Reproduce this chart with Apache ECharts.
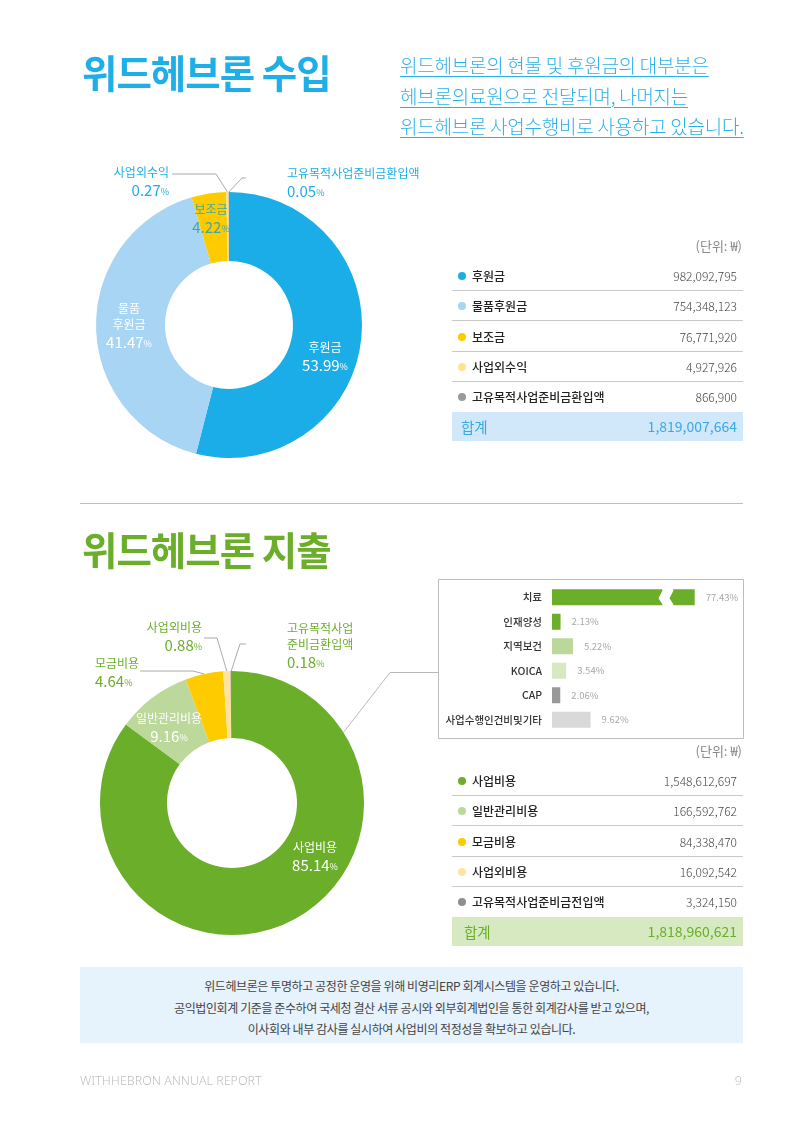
<!DOCTYPE html>
<html>
<head>
<meta charset="UTF-8">
<title>위드헤브론 수입 · 지출</title>
<script src="https://cdn.jsdelivr.net/npm/echarts@6.0.0/dist/echarts.min.js"></script>
<style>
    body { margin: 0; background: #fff; }
    #page { position: relative; width: 800px; height: 1132px; overflow: hidden;
        font-family: "Noto Sans CJK KR", "Noto Sans", sans-serif; }
    #chart { position: absolute; left: 0; top: 0; width: 800px; height: 1132px; }
    .abs { position: absolute; white-space: nowrap; }
    .title { left: 82px; font-size: 38.5px; font-weight: 700; letter-spacing: -1px; line-height: 42px; }
    .lead { left: 400px; top: 50px; font-size: 19px; line-height: 30.5px; color: #2cb0e8;
        font-weight: 300; letter-spacing: -0.25px; }
    .lead span { text-decoration: underline; text-underline-offset: 3px; text-decoration-thickness: 1px; }
    .unit { right: 58px; height: 20px; line-height: 20px; font-size: 13px; color: #888; }
    .row { left: 452px; width: 291px; height: 30px; box-sizing: border-box; line-height: 30px; font-size: 12px; }
    .row .dot { position: absolute; left: 6px; top: 11px; width: 8px; height: 8px; border-radius: 50%; }
    .row .lab { position: absolute; left: 20px; color: #222; font-weight: 500; }
    .row .val { position: absolute; right: 6px; color: #444; font-weight: 300; }
    .sum { left: 452px; width: 291px; height: 29px; line-height: 29px; font-size: 14.5px; }
    .sum .lab { position: absolute; left: 10px; }
    .sum .val { position: absolute; right: 6px; font-size: 14px; }
    .hr { left: 80px; top: 503px; width: 663px; height: 1px; background: #bdbdbd; }
    .note { left: 80px; top: 967px; width: 663px; height: 76px; background: #e6f2fc; box-sizing: border-box;
        padding-top: 8px; text-align: center; font-size: 12px; line-height: 21.5px; color: #444;
        letter-spacing: -0.4px; }
    .foot { top: 1072px; height: 18px; line-height: 18px; font-family: "Noto Sans", sans-serif;
        font-size: 12.5px; color: #bfbfbf; font-weight: 300; }
</style>
</head>
<body>
<div id="page">
    <div id="chart"></div>
    <div class="abs title" style="top:50px;color:#1eaee8;">위드헤브론 수입</div>
    <div class="abs lead">
        <span>위드헤브론의 현물 및 후원금의 대부분은</span><br>
        <span>헤브론의료원으로 전달되며, 나머지는</span><br>
        <span>위드헤브론 사업수행비로 사용하고 있습니다.</span>
    </div>
    <div id="incomeTable"></div>
    <div class="abs hr"></div>
    <div class="abs title" style="top:527px;color:#6aae2a;">위드헤브론 지출</div>
    <div id="expenseTable"></div>
    <div class="abs note">
        위드헤브론은 투명하고 공정한 운영을 위해 비영리ERP 회계시스템을 운영하고 있습니다.<br>
        공익법인회계 기준을 준수하여 국세청 결산 서류 공시와 외부회계법인을 통한 회계감사를 받고 있으며,<br>
        이사회와 내부 감사를 실시하여 사업비의 적정성을 확보하고 있습니다.
    </div>
    <div class="abs foot" style="left:80px;">WITHHEBRON ANNUAL REPORT</div>
    <div class="abs foot" style="right:58px;">9</div>
</div>
<script>
    // 수입
    var incomeNames = ['후원금', '물품후원금', '보조금', '사업외수익', '고유목적사업준비금환입액'];
    var incomeLabels = ['후원금', '물품\n후원금', '보조금', '사업외수익', '고유목적사업준비금환입액'];
    var incomeAmounts = [982092795, 754348123, 76771920, 4927926, 866900];
    var incomePct = [53.99, 41.47, 4.22, 0.27, 0.05];
    var incomeTotal = 1819007664;

    // 지출
    var expenseNames = ['사업비용', '일반관리비용', '모금비용', '사업외비용', '고유목적사업준비금전입액'];
    var expenseLabels = ['사업비용', '일반관리비용', '모금비용', '사업외비용', '고유목적사업\n준비금환입액'];
    var expenseAmounts = [1548612697, 166592762, 84338470, 16092542, 3324150];
    var expensePct = [85.14, 9.16, 4.64, 0.88, 0.18];
    var expenseTotal = 1818960621;

    // 사업비용 세부
    var projectNames = ['치료', '인재양성', '지역보건', 'KOICA', 'CAP', '사업수행인건비및기타'];
    var projectPct = [77.43, 2.13, 5.22, 3.54, 2.06, 9.62];

    var incomeColors = ['#1aade8', '#a9d5f5', '#fecb00', '#ffe38c', '#9a9a9a'];
    var expenseColors = ['#6aae2a', '#bdd89b', '#fecb00', '#ffe4a0', '#8e8e8e'];
    var projectColors = ['#6aae2a', '#6aae2a', '#bcd898', '#d7e9c3', '#999999', '#d9d9d9'];

    function fmt(n) { return n.toLocaleString('en-US'); }

    function buildTable(id, top, names, amounts, colors, total, sumBg, sumColor, sumLeft) {
        var html = '<div class="abs unit" style="top:' + (top - 25) + 'px">(단위: ₩)</div>';
        for (var i = 0; i < names.length; i++) {
            var t = top + i * 30.25;
            var border = i < names.length - 1 ? 'border-bottom:1px solid #c9c9c9;' : '';
            html += '<div class="abs row" style="top:' + t + 'px;' + border + '">' +
                '<span class="dot" style="background:' + colors[i] + '"></span>' +
                '<span class="lab">' + names[i] + '</span>' +
                '<span class="val">' + fmt(amounts[i]) + '</span></div>';
        }
        var st = top + names.length * 30.25;
        html += '<div class="abs sum" style="top:' + st + 'px;background:' + sumBg + ';color:' + sumColor + '">' +
            '<span class="lab" style="left:' + sumLeft + 'px">합계</span>' +
            '<span class="val">' + fmt(total) + '</span></div>';
        document.getElementById(id).innerHTML = html;
    }
    buildTable('incomeTable', 261, incomeNames, incomeAmounts, incomeColors, incomeTotal, '#d0e8f9', '#3aa8e6', 9);
    buildTable('expenseTable', 766, expenseNames, expenseAmounts, expenseColors, expenseTotal, '#d6e9c1', '#6aae2a', 12);

    function rich(color) {
        return {
            n: { fontSize: 12, lineHeight: 16, color: color },
            v: { fontSize: 15, lineHeight: 19, color: color },
            p: { fontSize: 9, lineHeight: 19, color: color, verticalAlign: 'bottom', padding: [0, 0, 3, 0] }
        };
    }

    function pieLabel(labels, pcts) {
        return function (p) {
            var lines = labels[p.dataIndex].split('\n').map(function (s) { return '{n|' + s + '}'; });
            return lines.join('\n') + '\n{v|' + pcts[p.dataIndex].toFixed(2) + '}{p|%}';
        };
    }

    function pieLayout(spots) {
        return function (p) {
            var s = spots[p.dataIndex];
            var out = { x: s.x, y: s.y, align: s.align, verticalAlign: 'middle' };
            if (s.line && p.labelLinePoints) {
                out.labelLinePoints = [p.labelLinePoints[0]].concat(s.line);
            }
            return out;
        };
    }

    function pieData(names, amounts, colors, outside, outColor) {
        return names.map(function (n, i) {
            var d = { name: n, value: amounts[i], itemStyle: { color: colors[i] } };
            if (outside[i]) {
                d.label = { position: 'outside', rich: rich(outColor) };
                d.labelLine = { show: true };
            }
            return d;
        });
    }

    var incomeData = pieData(incomeNames, incomeAmounts, incomeColors, [0, 0, 0, 1, 1], '#1eaee8');
    incomeData[2].label = { rich: rich('#45a79c') };

    var expenseData = pieData(expenseNames, expenseAmounts, expenseColors, [0, 0, 1, 1, 1], '#6aae2a');

    var myChart = echarts.init(document.getElementById('chart'));
    myChart.setOption({
        animation: false,
        textStyle: { fontFamily: 'Noto Sans CJK KR' },
        graphic: [
            {
                type: 'rect',
                shape: { x: 438.5, y: 579.5, width: 305, height: 159 },
                style: { fill: 'rgba(0,0,0,0)', stroke: '#bdbdbd', lineWidth: 1 }
            },
            {
                type: 'polyline',
                shape: { points: [[438, 672.5], [390, 672.5], [343, 733]] },
                style: { stroke: '#b8b8b8', lineWidth: 1, fill: null },
                z: 10
            }
        ],
        grid: { left: 552, top: 585, width: 153, height: 147 },
        xAxis: {
            type: 'value',
            min: 0,
            max: 80,
            axisLine: { show: false },
            axisTick: { show: false },
            axisLabel: { show: false },
            splitLine: { show: false },
            breaks: [{ start: 27, end: 71.6, gap: 2.75 }],
            breakArea: {
                show: true,
                itemStyle: { color: '#fff', borderColor: '#fff', borderWidth: 0, opacity: 1 },
                zigzagAmplitude: 2,
                zigzagMinSpan: 5,
                zigzagMaxSpan: 10,
                zigzagZ: 100,
                expandOnClick: false
            }
        },
        yAxis: {
            type: 'category',
            inverse: true,
            data: projectNames,
            axisLine: { show: false },
            axisTick: { show: false },
            axisLabel: { margin: 10, color: '#333', fontSize: 10.5, fontWeight: 500 }
        },
        series: [
            {
                type: 'bar',
                barWidth: 16,
                silent: true,
                data: projectPct.map(function (v, i) {
                    return { value: v, itemStyle: { color: projectColors[i] } };
                }),
                label: {
                    show: true,
                    position: 'right',
                    distance: 11,
                    color: '#a8a8a8',
                    fontSize: 9.5,
                    formatter: function (p) { return p.value.toFixed(2) + '%'; }
                }
            },
            {
                type: 'pie',
                center: [229, 325],
                radius: [64, 133],
                startAngle: 90,
                clockwise: true,
                silent: true,
                avoidLabelOverlap: false,
                label: {
                    show: true,
                    position: 'inside',
                    formatter: pieLabel(incomeLabels, incomePct),
                    rich: rich('#fff')
                },
                labelLine: { show: false, lineStyle: { color: '#aaa', width: 1 } },
                labelLayout: pieLayout([
                    { x: 325, y: 357, align: 'center' },
                    { x: 129, y: 326, align: 'center' },
                    { x: 211, y: 219, align: 'center' },
                    { x: 169, y: 182, align: 'right', line: [[216, 174], [172, 174]] },
                    { x: 287, y: 183, align: 'left', line: [[242, 178], [246, 178]] }
                ]),
                data: incomeData
            },
            {
                type: 'pie',
                center: [232, 803],
                radius: [65, 132],
                startAngle: 90,
                clockwise: true,
                silent: true,
                avoidLabelOverlap: false,
                label: {
                    show: true,
                    position: 'inside',
                    formatter: pieLabel(expenseLabels, expensePct),
                    rich: rich('#fff')
                },
                labelLine: { show: false, lineStyle: { color: '#aaa', width: 1 } },
                labelLayout: pieLayout([
                    { x: 315, y: 857, align: 'center' },
                    { x: 169, y: 728, align: 'center' },
                    { x: 95, y: 673, align: 'left', line: [[193, 671], [140, 671]] },
                    { x: 202, y: 637, align: 'right', line: [[217, 638], [204, 638]] },
                    { x: 287, y: 646, align: 'left', line: [[240, 644], [246, 644]] }
                ]),
                data: expenseData
            }
        ]
    });
</script>
</body>
</html>
